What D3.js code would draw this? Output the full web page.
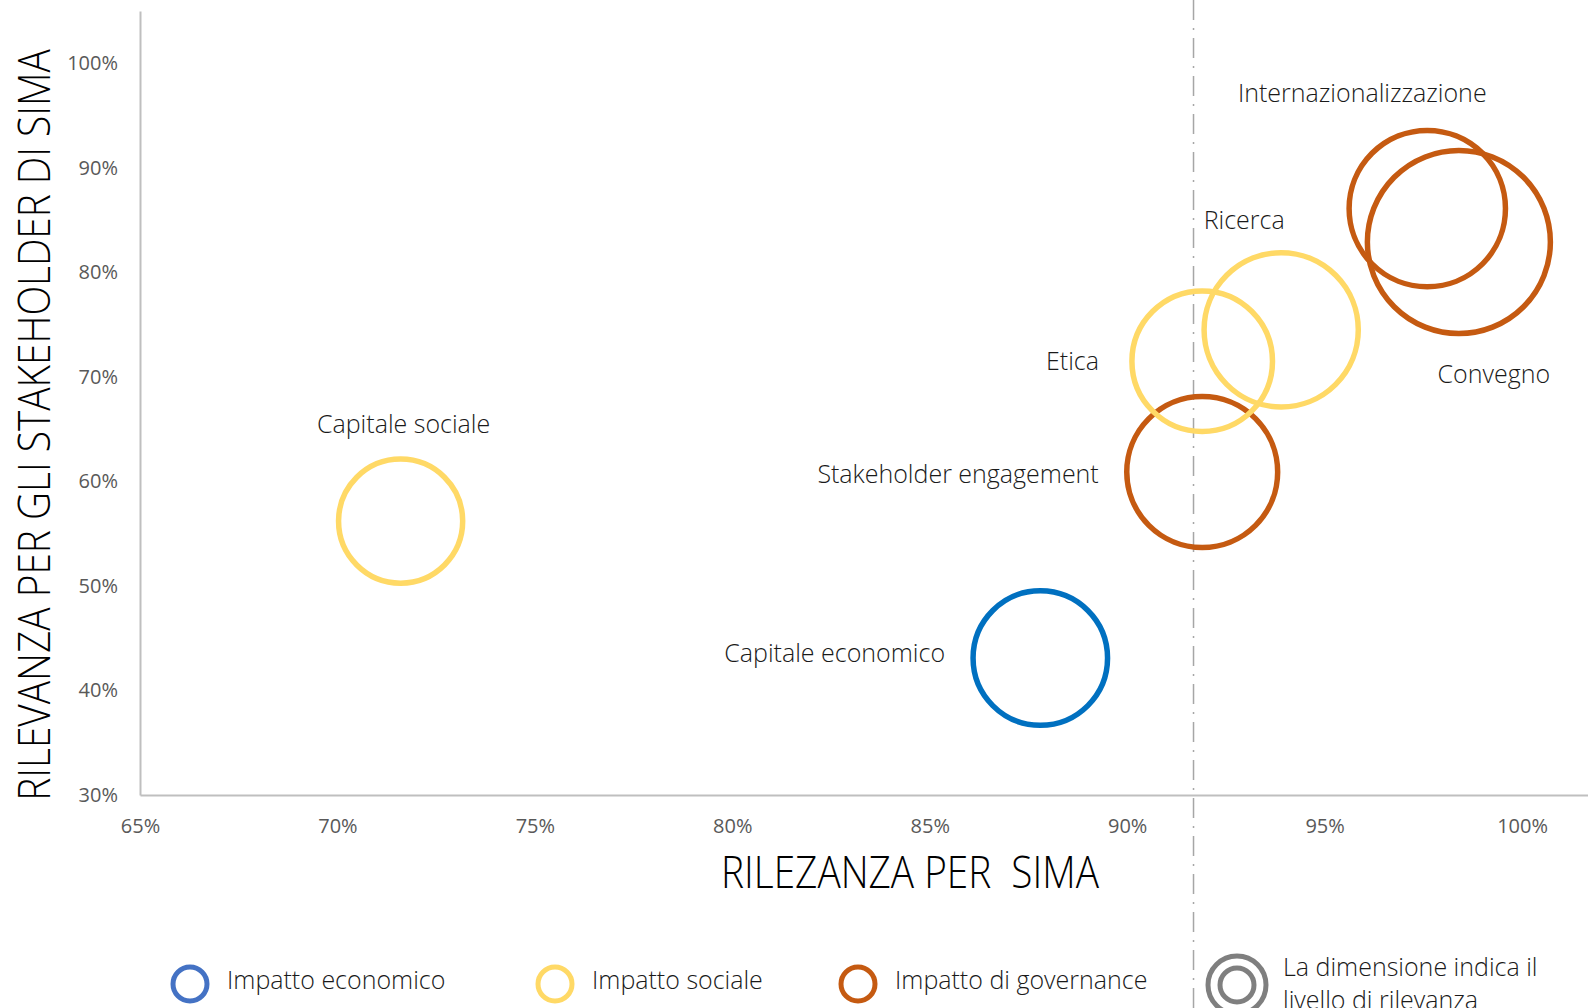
<!DOCTYPE html>
<html>
<head>
<meta charset="utf-8">
<script src="https://cdn.jsdelivr.net/npm/d3@7"></script>
<style>
  body { margin: 0; background: #fff; }
  svg { display: block; }
</style>
</head>
<body>
<script>
// Bubble data
const topics = ["Capitale sociale", "Capitale economico", "Stakeholder engagement", "Etica", "Ricerca", "Internazionalizzazione", "Convegno"];
const impact = ["sociale", "economico", "governance", "sociale", "sociale", "governance", "governance"];
const relSima = [0.716, 0.878, 0.919, 0.919, 0.939, 0.976, 0.984];
const relStakeholder = [0.562, 0.431, 0.609, 0.715, 0.745, 0.861, 0.829];
const bubbleSize = [46, 54, 68, 59, 71, 73, 100];

// where each label sits around its bubble (side + small nudges)
const labelSide = ["top", "left", "left", "left", "top", "top", "bottom"];
const labelDx = [3, 0, 0, -5, -37, -65, 35];
const labelDy = [-3, -5, 2, 0, 0, -5, 3];

const xTicks = [0.65, 0.70, 0.75, 0.80, 0.85, 0.90, 0.95, 1.00];
const yTicks = [0.30, 0.40, 0.50, 0.60, 0.70, 0.80, 0.90, 1.00];
const threshold = 0.9168;

const legendNames = ["Impatto economico", "Impatto sociale", "Impatto di governance"];
const legendKeys = ["economico", "sociale", "governance"];

const bubbleColor = { economico: "#0070C0", sociale: "#FFD966", governance: "#C55A11" };
const legendColor = { economico: "#4472C4", sociale: "#FFD966", governance: "#C55A11" };

const width = 1588, height = 1008;
const labelFont = "'Open Sans', 'Segoe UI', sans-serif";

const svg = d3.select("body").append("svg")
    .attr("width", width)
    .attr("height", height)
    .style("background", "#fff");

const x = d3.scaleLinear().domain([0.65, 1.0167]).range([140, width]);
const y = d3.scaleLinear().domain([0.30, 1.05]).range([795, 11]);
const r = d3.scaleSqrt().domain([0, 100]).range([0, 91.5]);

// threshold line (runs over the whole picture)
svg.append("line")
    .attr("x1", x(threshold)).attr("x2", x(threshold))
    .attr("y1", 0).attr("y2", height)
    .attr("stroke", "#A6A6A6")
    .attr("stroke-width", 1.5)
    .attr("stroke-dasharray", "20,8,2,8");

// axes
const xAxis = svg.append("g")
    .attr("transform", `translate(0,${y(0.30)})`)
    .call(d3.axisBottom(x).tickValues(xTicks).tickFormat(d3.format(".0%")).tickSize(0).tickPadding(24));
const yAxis = svg.append("g")
    .attr("transform", `translate(${x(0.65)},0)`)
    .call(d3.axisLeft(y).tickValues(yTicks).tickFormat(d3.format(".0%")).tickSize(0).tickPadding(22));

[xAxis, yAxis].forEach(a => {
    a.select(".domain").attr("stroke", "#BFBFBF").attr("stroke-width", 2);
    a.selectAll("text")
        .style("font-family", "'Open Sans', sans-serif")
        .style("font-size", "20px")
        .attr("fill", "#595959");
});

// bubbles
const bubbles = svg.append("g");
bubbles.selectAll("circle")
    .data(topics)
    .enter()
    .append("circle")
    .attr("cx", (d, i) => x(relSima[i]))
    .attr("cy", (d, i) => y(relStakeholder[i]))
    .attr("r", (d, i) => r(bubbleSize[i]))
    .attr("fill", "none")
    .attr("stroke", (d, i) => bubbleColor[impact[i]])
    .attr("stroke-width", 5.5);

// data labels
bubbles.selectAll("text")
    .data(topics)
    .enter()
    .append("text")
    .text(d => d)
    .attr("x", (d, i) => {
        const cx = x(relSima[i]), rr = r(bubbleSize[i]);
        return labelSide[i] === "left" ? cx - rr - 28 + labelDx[i] : cx + labelDx[i];
    })
    .attr("y", (d, i) => {
        const cy = y(relStakeholder[i]), rr = r(bubbleSize[i]);
        if (labelSide[i] === "top") return cy - rr - 32 + labelDy[i];
        if (labelSide[i] === "bottom") return cy + rr + 38 + labelDy[i];
        return cy + labelDy[i];
    })
    .attr("dy", "0.35em")
    .attr("text-anchor", (d, i) => labelSide[i] === "left" ? "end" : "middle")
    .style("font-family", labelFont)
    .style("font-weight", 300)
    .style("font-size", "25px")
    .attr("fill", "#1a1a1a");

// axis titles: condensed look, squeezed horizontally to the wanted length
function condensedTitle(txt, cx, cy, angle, targetLen) {
    const t = svg.append("text")
        .attr("text-anchor", "middle")
        .style("white-space", "pre")
        .style("font-family", labelFont)
        .style("font-weight", 300)
        .style("font-size", "45px")
        .attr("fill", "#000")
        .text(txt);
    const k = targetLen / t.node().getComputedTextLength();
    t.attr("transform", `translate(${cx},${cy}) rotate(${angle}) scale(${k},1)`);
}
condensedTitle("RILEVANZA PER GLI STAKEHOLDER DI SIMA", 50, 425, -90, 752);
condensedTitle("RILEZANZA PER  SIMA", 910, 888, 0, 378);

// legend
const legendX = [190, 555, 858];
const legend = svg.append("g");
legend.selectAll("circle")
    .data(legendKeys)
    .enter()
    .append("circle")
    .attr("cx", (d, i) => legendX[i])
    .attr("cy", 984)
    .attr("r", 17)
    .attr("fill", "none")
    .attr("stroke", d => legendColor[d])
    .attr("stroke-width", 5);
legend.selectAll("text")
    .data(legendNames)
    .enter()
    .append("text")
    .attr("x", (d, i) => legendX[i] + 37)
    .attr("y", 980)
    .attr("dy", "0.35em")
    .style("font-family", labelFont)
    .style("font-weight", 300)
    .style("font-size", "25px")
    .attr("fill", "#1a1a1a")
    .text(d => d);

// size key
const sizeKey = legend.append("g").attr("transform", "translate(1237,985)");
[29, 17].forEach(rad => {
    sizeKey.append("circle")
        .attr("r", rad)
        .attr("fill", "none")
        .attr("stroke", "#7F7F7F")
        .attr("stroke-width", 5);
});
const keyText = legend.append("text")
    .style("font-family", labelFont)
    .style("font-weight", 300)
    .style("font-size", "25px")
    .attr("fill", "#1a1a1a");
keyText.append("tspan").attr("x", 1283).attr("y", 976).text("La dimensione indica il");
keyText.append("tspan").attr("x", 1283).attr("y", 1009).text("livello di rilevanza");
</script>
</body>
</html>
